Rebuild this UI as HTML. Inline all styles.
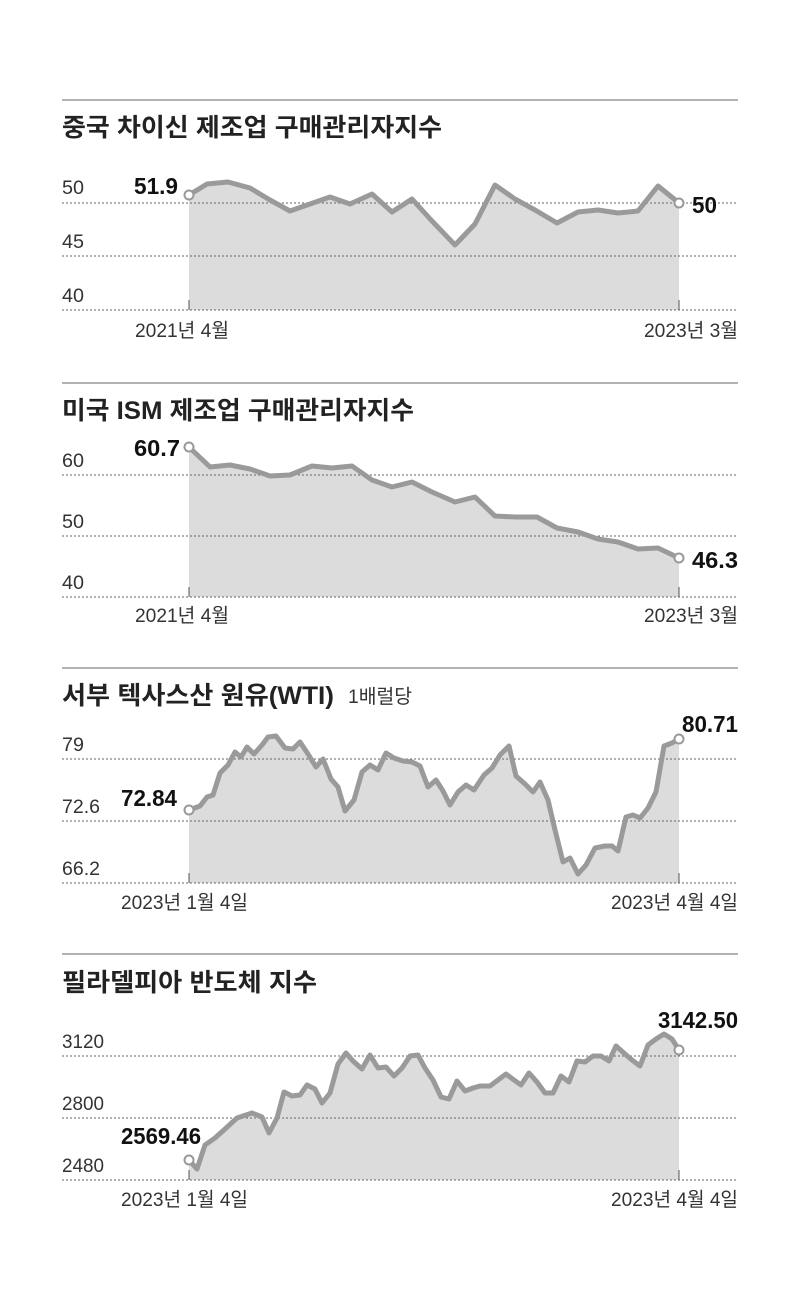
<!DOCTYPE html>
<html><head><meta charset="utf-8"><style>
html,body{margin:0;padding:0;background:#fff}
svg{display:block}
.t{font-family:"Liberation Sans","Noto Sans CJK KR",sans-serif;font-weight:bold;font-size:25px;fill:#222}
.a{font-family:"Liberation Sans Narrow","Liberation Sans","Noto Sans CJK KR",sans-serif;font-size:19.5px;fill:#333}
.v{font-family:"Liberation Sans Narrow","Liberation Sans",sans-serif;font-weight:bold;font-size:23px;fill:#111}
.g{stroke:#666;stroke-width:1;stroke-dasharray:2,2}
.f{fill:#dcdcdc}
.l{fill:none;stroke:#9a9a9a;stroke-width:5;stroke-linejoin:round;stroke-linecap:round}
.c{fill:#fff;stroke:#999;stroke-width:2}
.s{stroke:#999;stroke-width:1.5}
</style></head><body>
<svg width="806" height="1308" viewBox="0 0 806 1308" xmlns="http://www.w3.org/2000/svg">
<!-- Chart 1 -->
<line class="s" x1="62" y1="100" x2="738" y2="100"/>
<text class="t" x="62" y="136" textLength="380" lengthAdjust="spacingAndGlyphs">중국 차이신 제조업 구매관리자지수</text>
<polygon class="f" points="189,195 207,184 228,182 250,188 270,200 290,211 310,204 330,197 350,204 372,194 392,212 412,199 432,221 455,245 475,224 495,185 515,199 535,210 557,223 578,212 598,210 618,213 638,211 658,186 679,203 679,310 189,310"/>
<line class="g" x1="62" y1="203" x2="738" y2="203"/><line class="g" x1="62" y1="256" x2="738" y2="256"/><line class="g" x1="62" y1="310" x2="738" y2="310"/>
<polyline class="l" points="189,195 207,184 228,182 250,188 270,200 290,211 310,204 330,197 350,204 372,194 392,212 412,199 432,221 455,245 475,224 495,185 515,199 535,210 557,223 578,212 598,210 618,213 638,211 658,186 679,203"/>
<circle class="c" cx="189" cy="195" r="4.5"/><circle class="c" cx="679" cy="203" r="4.5"/>
<line x1="189" y1="300" x2="189" y2="310" stroke="#555"/><line x1="679" y1="300" x2="679" y2="310" stroke="#555"/>
<text class="a" x="62" y="194" textLength="22" lengthAdjust="spacingAndGlyphs">50</text><text class="a" x="62" y="248" textLength="22" lengthAdjust="spacingAndGlyphs">45</text><text class="a" x="62" y="302" textLength="22" lengthAdjust="spacingAndGlyphs">40</text>
<text class="v" x="134" y="194" textLength="44" lengthAdjust="spacingAndGlyphs">51.9</text><text class="v" x="692" y="213" textLength="25" lengthAdjust="spacingAndGlyphs">50</text>
<text class="a" x="135" y="337" textLength="94" lengthAdjust="spacingAndGlyphs">2021년 4월</text><text class="a" x="738" y="337" text-anchor="end" textLength="94" lengthAdjust="spacingAndGlyphs">2023년 3월</text>

<!-- Chart 2 -->
<line class="s" x1="62" y1="383" x2="738" y2="383"/>
<text class="t" x="62" y="419" textLength="352" lengthAdjust="spacingAndGlyphs">미국 ISM 제조업 구매관리자지수</text>
<polygon class="f" points="189,447 210,467 230,465 250,469 270,476 290,475 312,466 332,468 352,466 372,480 392,487 412,482 432,492 455,502 475,497 495,516 515,517 537,517 557,528 578,532 598,539 618,542 638,549 658,548 679,558 679,597 189,597"/>
<line class="g" x1="62" y1="475" x2="738" y2="475"/><line class="g" x1="62" y1="536" x2="738" y2="536"/><line class="g" x1="62" y1="597" x2="738" y2="597"/>
<polyline class="l" points="189,447 210,467 230,465 250,469 270,476 290,475 312,466 332,468 352,466 372,480 392,487 412,482 432,492 455,502 475,497 495,516 515,517 537,517 557,528 578,532 598,539 618,542 638,549 658,548 679,558"/>
<circle class="c" cx="189" cy="447" r="4.5"/><circle class="c" cx="679" cy="558" r="4.5"/>
<line x1="189" y1="587" x2="189" y2="597" stroke="#555"/><line x1="679" y1="587" x2="679" y2="597" stroke="#555"/>
<text class="a" x="62" y="467" textLength="22" lengthAdjust="spacingAndGlyphs">60</text><text class="a" x="62" y="528" textLength="22" lengthAdjust="spacingAndGlyphs">50</text><text class="a" x="62" y="589" textLength="22" lengthAdjust="spacingAndGlyphs">40</text>
<text class="v" x="134" y="456" textLength="46" lengthAdjust="spacingAndGlyphs">60.7</text><text class="v" x="692" y="568" textLength="46" lengthAdjust="spacingAndGlyphs">46.3</text>
<text class="a" x="135" y="622" textLength="94" lengthAdjust="spacingAndGlyphs">2021년 4월</text><text class="a" x="738" y="622" text-anchor="end" textLength="94" lengthAdjust="spacingAndGlyphs">2023년 3월</text>

<!-- Chart 3 -->
<line class="s" x1="62" y1="668" x2="738" y2="668"/>
<text class="t" x="62" y="704" textLength="272" lengthAdjust="spacingAndGlyphs">서부 텍사스산 원유(WTI)</text>
<text class="a" x="348" y="703" textLength="64" lengthAdjust="spacingAndGlyphs">1배럴당</text>
<polygon class="f" points="189,810 200,806 207,797 213,795 220,773 228,765 235,752 241,757 247,747 254,754 262,745 268,737 276,736 285,748 293,749 300,742 308,754 316,767 323,759 331,779 338,787 345,811 354,800 362,772 370,765 378,770 386,753 394,758 403,761 412,762 420,766 428,787 436,780 443,791 450,805 458,792 466,785 474,790 484,775 492,768 500,755 509,746 516,776 525,784 533,792 540,782 548,800 555,830 563,862 570,858 578,874 586,865 595,848 605,846 612,846 618,851 626,817 633,815 640,818 648,808 656,792 664,746 672,743 679,739 679,883 189,883"/>
<line class="g" x1="62" y1="759" x2="738" y2="759"/><line class="g" x1="62" y1="821" x2="738" y2="821"/><line class="g" x1="62" y1="883" x2="738" y2="883"/>
<polyline class="l" points="189,810 200,806 207,797 213,795 220,773 228,765 235,752 241,757 247,747 254,754 262,745 268,737 276,736 285,748 293,749 300,742 308,754 316,767 323,759 331,779 338,787 345,811 354,800 362,772 370,765 378,770 386,753 394,758 403,761 412,762 420,766 428,787 436,780 443,791 450,805 458,792 466,785 474,790 484,775 492,768 500,755 509,746 516,776 525,784 533,792 540,782 548,800 555,830 563,862 570,858 578,874 586,865 595,848 605,846 612,846 618,851 626,817 633,815 640,818 648,808 656,792 664,746 672,743 679,739"/>
<circle class="c" cx="189" cy="810" r="4.5"/><circle class="c" cx="679" cy="739" r="4.5"/>
<line x1="189" y1="873" x2="189" y2="883" stroke="#555"/><line x1="679" y1="873" x2="679" y2="883" stroke="#555"/>
<text class="a" x="62" y="751" textLength="22" lengthAdjust="spacingAndGlyphs">79</text><text class="a" x="62" y="813" textLength="38" lengthAdjust="spacingAndGlyphs">72.6</text><text class="a" x="62" y="875" textLength="38" lengthAdjust="spacingAndGlyphs">66.2</text>
<text class="v" x="121" y="806" textLength="56" lengthAdjust="spacingAndGlyphs">72.84</text><text class="v" x="738" y="732" text-anchor="end" textLength="56" lengthAdjust="spacingAndGlyphs">80.71</text>
<text class="a" x="121" y="909" textLength="127" lengthAdjust="spacingAndGlyphs">2023년 1월 4일</text><text class="a" x="738" y="909" text-anchor="end" textLength="127" lengthAdjust="spacingAndGlyphs">2023년 4월 4일</text>

<!-- Chart 4 -->
<line class="s" x1="62" y1="954" x2="738" y2="954"/>
<text class="t" x="62" y="991" textLength="255" lengthAdjust="spacingAndGlyphs">필라델피아 반도체 지수</text>
<polygon class="f" points="189,1160 197,1169 205,1145 215,1138 225,1129 237,1118 252,1113 262,1117 269,1133 277,1118 284,1092 292,1096 300,1095 307,1085 315,1089 322,1103 330,1093 338,1064 346,1053 353,1061 362,1069 370,1055 378,1068 386,1067 394,1076 402,1068 410,1056 418,1055 425,1068 433,1080 441,1097 449,1099 457,1081 465,1091 473,1088 480,1086 490,1086 498,1080 506,1074 514,1080 521,1085 529,1073 537,1082 545,1093 553,1093 561,1076 569,1082 577,1061 585,1062 593,1056 601,1056 609,1061 616,1046 625,1054 632,1060 640,1066 648,1045 656,1039 664,1034 672,1039 679,1050 679,1180 189,1180"/>
<line class="g" x1="62" y1="1056" x2="738" y2="1056"/><line class="g" x1="62" y1="1118" x2="738" y2="1118"/><line class="g" x1="62" y1="1180" x2="738" y2="1180"/>
<polyline class="l" points="189,1160 197,1169 205,1145 215,1138 225,1129 237,1118 252,1113 262,1117 269,1133 277,1118 284,1092 292,1096 300,1095 307,1085 315,1089 322,1103 330,1093 338,1064 346,1053 353,1061 362,1069 370,1055 378,1068 386,1067 394,1076 402,1068 410,1056 418,1055 425,1068 433,1080 441,1097 449,1099 457,1081 465,1091 473,1088 480,1086 490,1086 498,1080 506,1074 514,1080 521,1085 529,1073 537,1082 545,1093 553,1093 561,1076 569,1082 577,1061 585,1062 593,1056 601,1056 609,1061 616,1046 625,1054 632,1060 640,1066 648,1045 656,1039 664,1034 672,1039 679,1050"/>
<circle class="c" cx="189" cy="1160" r="4.5"/><circle class="c" cx="679" cy="1050" r="4.5"/>
<line x1="189" y1="1170" x2="189" y2="1180" stroke="#555"/><line x1="679" y1="1170" x2="679" y2="1180" stroke="#555"/>
<text class="a" x="62" y="1048" textLength="42" lengthAdjust="spacingAndGlyphs">3120</text><text class="a" x="62" y="1110" textLength="42" lengthAdjust="spacingAndGlyphs">2800</text><text class="a" x="62" y="1172" textLength="42" lengthAdjust="spacingAndGlyphs">2480</text>
<text class="v" x="121" y="1144" textLength="80" lengthAdjust="spacingAndGlyphs">2569.46</text><text class="v" x="738" y="1028" text-anchor="end" textLength="80" lengthAdjust="spacingAndGlyphs">3142.50</text>
<text class="a" x="121" y="1206" textLength="127" lengthAdjust="spacingAndGlyphs">2023년 1월 4일</text><text class="a" x="738" y="1206" text-anchor="end" textLength="127" lengthAdjust="spacingAndGlyphs">2023년 4월 4일</text>
</svg>
</body></html>
